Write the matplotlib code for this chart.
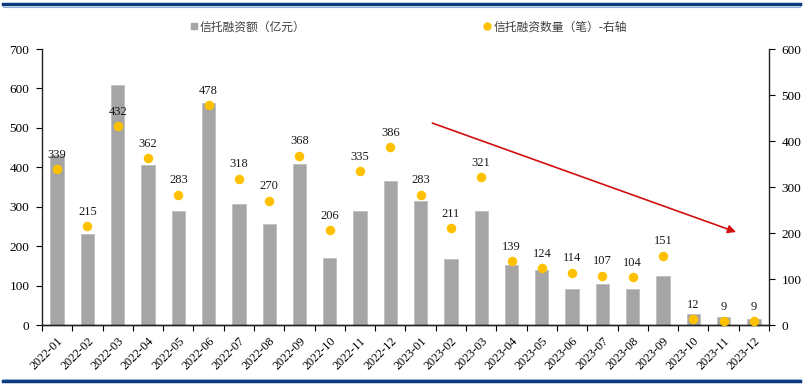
import numpy as np
import matplotlib.pyplot as plt
from matplotlib.lines import Line2D

# 月份
meses = ['2022-01', '2022-02', '2022-03', '2022-04', '2022-05', '2022-06',
         '2022-07', '2022-08', '2022-09', '2022-10', '2022-11', '2022-12',
         '2023-01', '2023-02', '2023-03', '2023-04', '2023-05', '2023-06',
         '2023-07', '2023-08', '2023-09', '2023-10', '2023-11', '2023-12']

# 信托融资额（亿元）
montante = [430, 232, 608, 406, 289, 564, 308, 257, 409, 169, 289, 365,
            315, 167, 289, 151, 139, 91, 105, 92, 124, 28, 20, 16]

# 信托融资数量（笔）
quantidade = [339, 215, 432, 362, 283, 478, 318, 270, 368, 206, 335, 386,
              283, 211, 321, 139, 124, 114, 107, 104, 151, 12, 9, 9]

# seta de tendência (posição x, eixo direito)
seta_inicio = (12.3, 441)
seta_fim = (22.5, 200)

serif = 'Liberation Serif'
cjk = ['Noto Sans CJK SC', 'DejaVu Sans']

fig = plt.figure(figsize=(8.08, 3.88), dpi=100)
ax1 = fig.add_axes([42 / 808, 1 - 325 / 388, (769 - 42) / 808, (325 - 49) / 388])
ax2 = ax1.twinx()

x = np.arange(len(meses))
barras = ax1.bar(x, montante, width=0.44, color='#A5A5A5', edgecolor='#BFBFBF',
                 linewidth=0.6, zorder=2)
pontos = ax2.scatter(x, quantidade, s=34, color='#FFC000', zorder=3)
for xi, q in zip(x, quantidade):
    ax2.annotate(str(q), (xi, q), xytext=(0, 6), textcoords='offset points',
                 ha='center', va='bottom', fontsize=9, family=serif, color='#1a1a1a')

ax1.set_xlim(-0.5, len(meses) - 0.5)
ax1.set_ylim(0, 700)
ax2.set_ylim(0, 600)
ax1.set_yticks(range(0, 701, 100))
ax2.set_yticks(range(0, 601, 100))

# ticks do eixo x nas fronteiras entre categorias
ax1.set_xticks(np.arange(-0.5, len(meses), 1.0))
ax1.set_xticklabels([])
ax1.set_xticks(x, minor=True)
ax1.set_xticklabels(meses, minor=True, rotation=45, ha='right',
                    rotation_mode='anchor', fontsize=8.8, family=serif)
ax1.tick_params(axis='x', which='minor', length=0, pad=7)
ax1.tick_params(axis='x', which='major', length=4, direction='out', width=0.8)

for ax in (ax1, ax2):
    ax.tick_params(axis='y', labelsize=9.5, length=4, width=0.8, pad=5)
    for lbl in ax.get_yticklabels():
        lbl.set_family(serif)
    ax.spines['top'].set_visible(False)
    for s in ('left', 'right', 'bottom'):
        ax.spines[s].set_color('#222222')
        ax.spines[s].set_linewidth(1.0)
ax1.spines['right'].set_visible(False)
ax2.spines['left'].set_visible(False)

ax2.annotate('', xy=seta_fim, xytext=seta_inicio,
             arrowprops=dict(arrowstyle='-|>', color='#D01010', lw=1.2,
                             mutation_scale=12))

h1 = Line2D([], [], marker='s', linestyle='none', color='#A5A5A5', markersize=5)
h2 = Line2D([], [], marker='o', linestyle='none', color='#FFC000', markersize=5)
fig.legend([h1, h2], ['信托融资额（亿元）', '信托融资数量（笔）-右轴'],
           loc='center', bbox_to_anchor=(0.505, 1 - 27 / 388), ncol=2,
           frameon=False, columnspacing=15, handletextpad=0.1, handlelength=0.8,
           prop={'family': cjk, 'size': 8.5}, labelcolor='#404040')

# linhas azuis de moldura
fig.add_artist(Line2D([3 / 808, 800 / 808], [1 - 4 / 388] * 2, color='#0A3A80', lw=2.5))
fig.add_artist(Line2D([3 / 808, 800 / 808], [1 - 6.5 / 388] * 2, color='#8FB0D8', lw=0.8))
fig.add_artist(Line2D([3 / 808, 800 / 808], [1 - 381 / 388] * 2, color='#0A3A80', lw=2.5))
fig.add_artist(Line2D([3 / 808, 800 / 808], [1 - 378.5 / 388] * 2, color='#8FB0D8', lw=0.8))

fig.savefig('out.png', dpi=100)
